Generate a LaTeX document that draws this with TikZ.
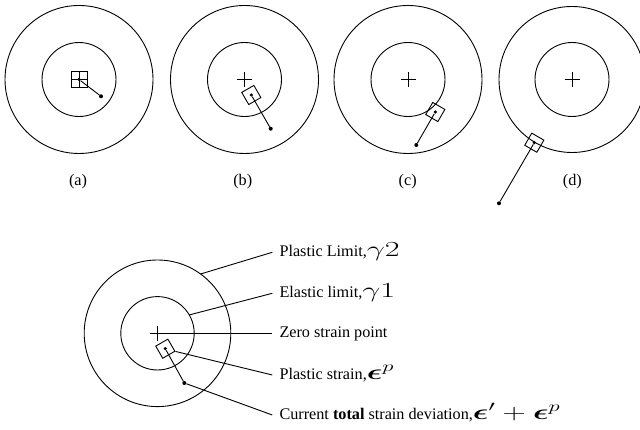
\documentclass[tikz,border=0pt]{standalone}
\usepackage{fix-cm}
\usepackage{amsmath, amssymb}
\usepackage{graphicx}
\usepackage[no-math]{fontspec}
\setmainfont{Liberation Serif}
\usetikzlibrary{positioning}

\tikzset{
    ring/.style={line width=0.9pt},
    strainbox/.style={draw, line width=0.9pt, minimum size=14pt, inner sep=0pt},
    tipdot/.style={circle, fill, minimum size=4pt, inner sep=0pt},
    panel/.style={font=\fontsize{16.2}{19}\selectfont},
    callout/.style={anchor=west, inner xsep=7pt, inner ysep=0pt, text height=13.4pt,
        text depth=4pt, font=\fontsize{16.2}{19}\selectfont},
}
\newcommand{\bigmath}[1]{\scalebox{1.5}[1]{\fontsize{21.5}{24}\selectfont$#1$}}
\newcommand{\zeromark}[1]{\draw[ring] (#1) ++(-7.5,0) -- ++(15,0) (#1) ++(0,-7.5) -- ++(0,15);}

\begin{document}
\begin{tikzpicture}[x=1pt, y=1pt]
    \clip (0,0) rectangle (640,430);

    % Panel centres
    \coordinate (ca) at (79,350.5);
    \coordinate (cb) at (244.5,350.5);
    \coordinate (cc) at (408,350.5);
    \coordinate (cd) at (572,350.5);

    % Yield circles
    \foreach \c in {ca, cb, cc} {
        \draw[ring] (\c) circle (74);
        \draw[ring] (\c) circle (37);
    }
    \draw[ring] (cd) circle (73);
    \draw[ring] (cd) circle (37);

    % (a) strain at the origin
    \node[strainbox, minimum size=16pt] (pa) at (ca) {};
    \zeromark{ca}
    \node[tipdot, minimum size=3.5pt] (da) at (pa.center) {};
    \node[tipdot] (ta) at (101,333.7) {};
    \draw[ring] (da) -- (ta);
    \node[panel] (lbla) at (78,248) {(a)};

    % (b) inside the elastic limit
    \zeromark{cb}
    \node[strainbox, rotate=30] (pb) at (251.3,335) {};
    \node[tipdot, minimum size=3.5pt] (db) at (pb.center) {};
    \node[tipdot] (tb) at (270.7,301.3) {};
    \draw[ring] (db) -- (tb);
    \node[panel] (lblb) at (242.7,248) {(b)};

    % (c) dragged along by the elastic limit
    \zeromark{cc}
    \node[strainbox, rotate=-30] (pc) at (435.3,318) {};
    \node[tipdot, minimum size=3.5pt] (dc) at (pc.center) {};
    \node[tipdot] (tc) at (416.3,285) {};
    \draw[ring] (dc) -- (tc);
    \node[panel] (lblc) at (407.7,248) {(c)};

    % (d) stopped at the plastic limit
    \zeromark{cd}
    \node[strainbox, rotate=-30] (pd) at (534.3,287.3) {};
    \node[tipdot, minimum size=3.5pt] (dd) at (pd.center) {};
    \node[tipdot] (td) at (499,226.7) {};
    \draw[ring] (dd) -- (td);
    \node[panel] (lbld) at (572.3,248) {(d)};

    % Key
    \coordinate (ce) at (157.5,96.7);
    \draw[ring] (ce) circle (73.3);
    \draw[ring] (ce) circle (36.7);
    \zeromark{ce}
    \node[strainbox, rotate=30] (pe) at (165.3,81.3) {};
    \node[tipdot, minimum size=3.5pt] (de) at (pe.center) {};
    \node[tipdot] (te) at (184.3,47) {};
    \draw[ring] (de) -- (te);

    \node[callout] (lplast) at (272.3,177.7) {Plastic Limit,\bigmath{\gamma 2}};
    \node[callout] (lelast) at (272.3,136.7) {Elastic limit,\bigmath{\gamma 1}};
    \node[callout] (lzero) at (272.3,96.7) {Zero strain point};
    \node[callout] (lpstrain) at (272.3,55) {Plastic strain,\bigmath{\boldsymbol{\epsilon}^p}};
    \node[callout] (ltotal) at (272.3,15) {Current \textbf{total} strain deviation,\bigmath{\boldsymbol{\epsilon}' + \boldsymbol{\epsilon}^p}};

    \coordinate (pl) at ([shift={(54:73.3)}]ce);
    \coordinate (el) at ([shift={(30:36.7)}]ce);
    \coordinate (zs) at ([shift={(-7.5,0)}]ce);
    \draw[ring] (pl) -- (lplast.west);
    \draw[ring] (el) -- (lelast.west);
    \draw[ring] (zs) -- (lzero.west);
    \draw[ring] (pe.south east) -- (lpstrain.west);
    \draw[ring] (te) -- (ltotal.west);
\end{tikzpicture}
\end{document}
